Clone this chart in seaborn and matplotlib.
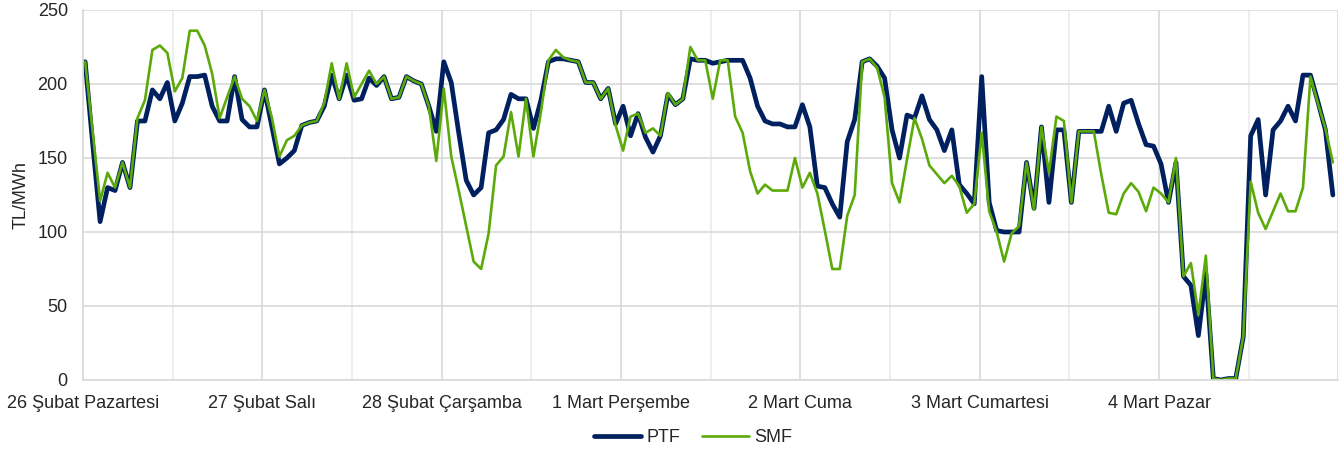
import numpy as np
import pandas as pd
import matplotlib
matplotlib.use("Agg")
import matplotlib.pyplot as plt
import seaborn as sns

# hourly prices, 26 Subat - 4 Mart (7 days x 24 hours)
ptf = [215, 160, 107, 130, 128, 147, 130, 175, 175, 196, 190, 201, 175, 187, 205, 205, 206, 185, 175, 175, 205, 176, 171, 171,
       196, 171, 146, 150, 155, 172, 174, 175, 185, 206, 190, 206, 189, 190, 204, 199, 205, 190, 191, 205, 202, 200, 185, 168,
       215, 201, 167, 135, 125, 130, 167, 169, 176, 193, 190, 190, 170, 189, 215, 217, 217, 216, 215, 201, 201, 190, 197, 173,
       185, 165, 180, 164, 154, 165, 193, 186, 190, 217, 216, 216, 214, 215, 216, 216, 216, 204, 185, 175, 173, 173, 171, 171,
       186, 171, 131, 130, 119, 110, 161, 176, 215, 217, 212, 204, 169, 150, 179, 177, 192, 176, 169, 155, 169, 132, 126, 119,
       205, 120, 101, 100, 100, 100, 147, 116, 171, 120, 169, 169, 120, 168, 168, 168, 168, 185, 168, 187, 189, 173, 159, 158,
       146, 120, 147, 70, 64, 30, 72, 1, 0, 1, 1, 29, 165, 176, 125, 169, 175, 185, 175, 206, 206, 188, 169, 125]
smf = [215, 168, 121, 140, 130, 147, 130, 177, 189, 223, 226, 221, 195, 204, 236, 236, 226, 207, 177, 191, 205, 190, 185, 175,
       196, 177, 151, 162, 165, 172, 174, 175, 187, 214, 190, 214, 191, 200, 209, 200, 205, 190, 191, 205, 202, 200, 185, 148,
       197, 151, 128, 104, 80, 75, 99, 145, 151, 181, 151, 190, 151, 181, 216, 223, 218, 216, 215, 201, 201, 190, 197, 172,
       155, 178, 180, 167, 170, 165, 194, 186, 190, 225, 216, 216, 190, 216, 216, 178, 167, 141, 126, 132, 128, 128, 128, 150,
       130, 140, 126, 101, 75, 75, 111, 125, 215, 217, 211, 191, 133, 120, 149, 177, 163, 145, 139, 133, 138, 131, 113, 119,
       167, 114, 100, 80, 99, 104, 147, 115, 171, 140, 178, 175, 120, 168, 168, 168, 139, 113, 112, 126, 133, 127, 114, 130,
       126, 120, 150, 70, 79, 44, 84, 1, 0, 1, 1, 29, 134, 113, 102, 114, 126, 114, 114, 130, 205, 187, 170, 147]
days = ["26 Şubat Pazartesi", "27 Şubat Salı", "28 Şubat Çarşamba", "1 Mart Perşembe",
        "2 Mart Cuma", "3 Mart Cumartesi", "4 Mart Pazar"]

df = pd.DataFrame({"hour": np.arange(len(ptf)), "PTF": ptf, "SMF": smf})

sns.set_style("white")
plt.rcParams["font.family"] = ["Liberation Sans", "DejaVu Sans"]

fig = plt.figure(figsize=(13.41, 4.54), dpi=100)
ax = fig.add_axes([0.062, 0.163, 0.936, 0.815])

sns.lineplot(data=df, x="hour", y="PTF", color="#002060", linewidth=3.4, label="PTF", ax=ax)
sns.lineplot(data=df, x="hour", y="SMF", color="#5BAA0A", linewidth=1.9, label="SMF", ax=ax)

# day ticks with lighter half-day gridlines
off = -0.27
ax.set_xlim(off, 167.4)
ax.set_xticks([off + 24 * k for k in range(8)])
ax.set_xticklabels(days + [""])
ax.set_xticks([off + 12 + 24 * k for k in range(7)], minor=True)
ax.set_ylim(0, 250)
ax.set_yticks(range(0, 251, 50))

ax.grid(axis="y", color="#d9d9d9", linewidth=1.2)
ax.grid(axis="x", which="major", color="#d9d9d9", linewidth=1.2)
ax.grid(axis="x", which="minor", color="#ebebeb", linewidth=1.2)
ax.set_axisbelow(True)
for s in ["top", "right"]:
    ax.spines[s].set_visible(False)
for s in ["left", "bottom"]:
    ax.spines[s].set_color("#d9d9d9")
    ax.spines[s].set_linewidth(1.2)
ax.tick_params(axis="x", which="major", length=5, color="#d9d9d9", labelsize=13, pad=6)
ax.tick_params(axis="x", which="minor", length=0)
ax.tick_params(axis="y", length=0, labelsize=13, pad=11)

ax.set_xlabel("")
ax.set_ylabel("TL/MWh", fontsize=13, labelpad=6)

ax.get_legend().remove()
h, l = ax.get_legend_handles_labels()
fig.legend(h, l, loc="lower center", ncol=2, frameon=False, fontsize=13,
           handlelength=2.6, columnspacing=1.2, handletextpad=0.3, bbox_to_anchor=(0.517, -0.018))

fig.savefig("out.png", dpi=100)
